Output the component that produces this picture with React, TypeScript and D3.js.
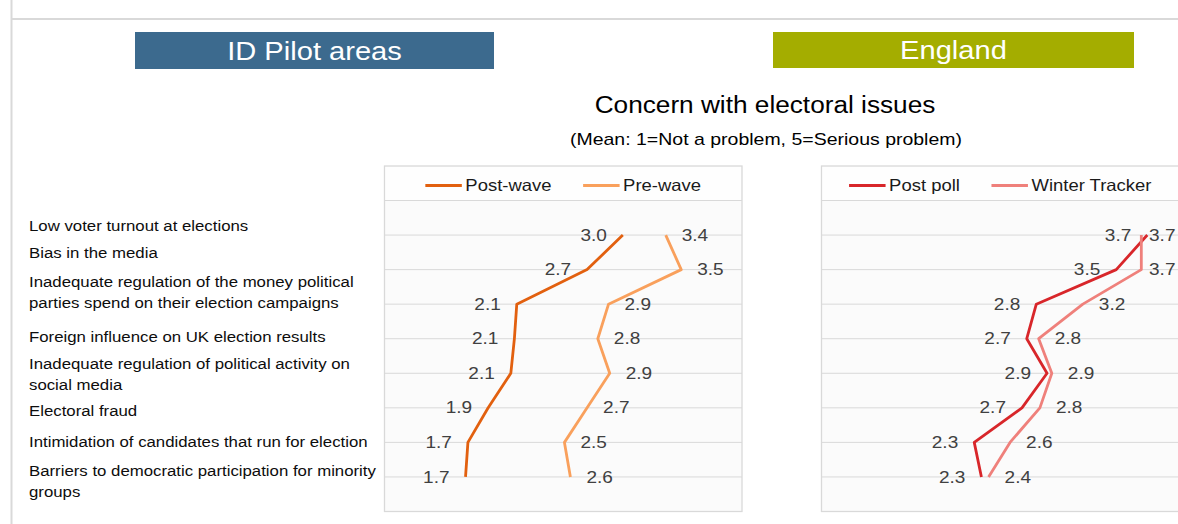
import React from "react";
import * as d3 from "d3";

// ---------- DATA ----------
const categoryLines: string[][] = [
  ["Low voter turnout at elections"],
  ["Bias in the media"],
  ["Inadequate regulation of the money political", "parties spend on their election campaigns"],
  ["Foreign influence on UK election results"],
  ["Inadequate regulation of political activity on", "social media"],
  ["Electoral fraud"],
  ["Intimidation of candidates that run for election"],
  ["Barriers to democratic participation for minority", "groups"],
];

const postWave = [3.0, 2.7, 2.11, 2.09, 2.06, 1.87, 1.7, 1.68];
const preWave = [3.36, 3.49, 2.88, 2.79, 2.89, 2.7, 2.51, 2.56];
const postPoll = [3.73, 3.47, 2.8, 2.72, 2.89, 2.68, 2.28, 2.34];
const winterTracker = [3.68, 3.68, 3.19, 2.82, 2.93, 2.83, 2.58, 2.4];

const leftSeriesNames = ["Post-wave", "Pre-wave"];
const rightSeriesNames = ["Post poll", "Winter Tracker"];
const headerLeft = "ID Pilot areas";
const headerRight = "England";
const title = "Concern with electoral issues";
const subtitle = "(Mean: 1=Not a problem, 5=Serious problem)";

// ---------- STYLE / LAYOUT ----------
const W = 1178;
const H = 524;
const SX = 1.12; // horizontal text stretch of the source picture
const FONT = "'Liberation Sans', Arial, sans-serif";
const GRID = "#d9d9d9";
const LABEL = "#404040";
const COLORS = {
  postWave: "#e2600f",
  preWave: "#f9a05c",
  postPoll: "#d8262a",
  winter: "#ef807b",
};
const catBlockCenters = [226, 253.3, 292.5, 336.7, 374.5, 410.7, 442.3, 481.4];

let _ctx: CanvasRenderingContext2D | null = null;
function measure(text: string, size: number) {
  if (!_ctx) _ctx = document.createElement("canvas").getContext("2d");
  if (!_ctx) return text.length * size * 0.5 * SX;
  _ctx.font = `${size}px 'Liberation Sans', Arial, sans-serif`;
  return _ctx.measureText(text).width * SX;
}

function T({
  x,
  y,
  anchor = "start",
  size,
  fill = "#000",
  children,
}: {
  x: number;
  y: number;
  anchor?: "start" | "middle" | "end";
  size: number;
  fill?: string;
  children: React.ReactNode;
}) {
  return (
    <text
      transform={`translate(${x},${y}) scale(${SX},1)`}
      textAnchor={anchor}
      dominantBaseline="central"
      fontSize={size}
      fontFamily={FONT}
      fill={fill}
    >
      {children}
    </text>
  );
}

type Panel = {
  x0: number;
  x1: number;
  names: string[];
  series: number[][];
  colors: string[];
};

const FRAME_TOP = 166;
const FRAME_BOTTOM = 511.5;
const LEGEND_BOTTOM = 200.5;
const fmt = d3.format(".1f");
const DATA_SIZE = 17;
const LABEL_GAP = 16;

function PanelChart({ p }: { p: Panel }) {
  const x = d3.scaleLinear().domain([1, 4]).range([p.x0, p.x1]);
  const y = d3.scaleLinear().domain([0, 9]).range([LEGEND_BOTTOM, FRAME_BOTTOM]);
  const idx = d3.range(categoryLines.length);
  const line = d3
    .line<number>()
    .x((v) => x(v))
    .y((_, i) => y(i + 1));

  // legend layout
  const legSize = 16.5;
  const lineLen = 36.5;
  const txtGap = 3.5;
  const entryGap = 31.5;
  const widths = p.names.map((n) => lineLen + txtGap + measure(n, legSize));
  const total = d3.sum(widths) + entryGap * (p.names.length - 1);
  const cx = (p.x0 + p.x1) / 2;
  let lx = cx - total / 2;
  const legY = 185.5;

  return (
    <g>
      <rect
        x={p.x0}
        y={FRAME_TOP}
        width={p.x1 - p.x0}
        height={FRAME_BOTTOM - FRAME_TOP}
        fill="#fbfbfb"
        stroke={GRID}
        strokeWidth={1.3}
      />
      <rect x={p.x0 + 1} y={FRAME_TOP + 1} width={p.x1 - p.x0 - 2} height={LEGEND_BOTTOM - FRAME_TOP - 1} fill="#fefefe" />
      {d3.range(0, 9).map((k) => (
        <line key={k} x1={p.x0} x2={p.x1} y1={y(k)} y2={y(k)} stroke={GRID} strokeWidth={1} />
      ))}
      {p.series.map((s, si) => (
        <path
          key={si}
          d={line(s) || ""}
          fill="none"
          stroke={p.colors[si]}
          strokeWidth={2.8}
          strokeLinejoin="round"
        />
      ))}
      {p.series.map((s, si) =>
        idx.map((i) => {
          const txt = fmt(s[i]);
          const w = measure(txt, DATA_SIZE);
          if (si === 0) {
            return (
              <T key={`${si}-${i}`} x={x(s[i]) - LABEL_GAP} y={y(i + 1)} anchor="end" size={DATA_SIZE} fill={LABEL}>
                {txt}
              </T>
            );
          }
          let lxp = x(s[i]) + LABEL_GAP;
          if (lxp + w > p.x1 - 4) lxp = p.x1 - 4 - w;
          return (
            <T key={`${si}-${i}`} x={lxp} y={y(i + 1)} anchor="start" size={DATA_SIZE} fill={LABEL}>
              {txt}
            </T>
          );
        })
      )}
      {p.names.map((n, ni) => {
        const sx = lx;
        lx += widths[ni] + entryGap;
        return (
          <g key={n}>
            <line x1={sx} x2={sx + lineLen} y1={legY} y2={legY} stroke={p.colors[ni]} strokeWidth={2.8} />
            <T x={sx + lineLen + txtGap} y={legY} size={legSize} fill="#1a1a1a">
              {n}
            </T>
          </g>
        );
      })}
    </g>
  );
}

export default function App() {
  const left: Panel = {
    x0: 384.5,
    x1: 742,
    names: leftSeriesNames,
    series: [postWave, preWave],
    colors: [COLORS.postWave, COLORS.preWave],
  };
  const right: Panel = {
    x0: 821.5,
    x1: 1179.5,
    names: rightSeriesNames,
    series: [postPoll, winterTracker],
    colors: [COLORS.postPoll, COLORS.winter],
  };
  const catSize = 15;
  const lineH = 20.6;
  return (
    <svg
      width={W}
      height={H}
      style={{ position: "absolute", left: 0, top: 0, background: "#fff" }}
    >
      <rect x={0} y={0} width={W} height={H} fill="#fff" />
      <line x1={11.5} x2={11.5} y1={0} y2={H} stroke={GRID} strokeWidth={2} />
      <line x1={11.5} x2={W} y1={19} y2={19} stroke={GRID} strokeWidth={2} />

      <rect x={135} y={32} width={359} height={37} fill="#3c6a8e" />
      <T x={(135 + 494) / 2} y={51} anchor="middle" size={26} fill="#fff">
        {headerLeft}
      </T>
      <rect x={773} y={32} width={361} height={36} fill="#a4ad00" />
      <T x={(773 + 1134) / 2} y={50.5} anchor="middle" size={26} fill="#fff">
        {headerRight}
      </T>

      <T x={765} y={104.5} anchor="middle" size={23.4} fill="#000">
        {title}
      </T>
      <T x={766} y={138.5} anchor="middle" size={17.4} fill="#000">
        {subtitle}
      </T>

      {categoryLines.map((lines, i) => {
        const c = catBlockCenters[i];
        const start = c - ((lines.length - 1) * lineH) / 2;
        return lines.map((l, j) => (
          <T key={`${i}-${j}`} x={29} y={start + j * lineH} size={catSize} fill="#0d0d0d">
            {l}
          </T>
        ));
      })}

      <PanelChart p={left} />
      <PanelChart p={right} />
    </svg>
  );
}
